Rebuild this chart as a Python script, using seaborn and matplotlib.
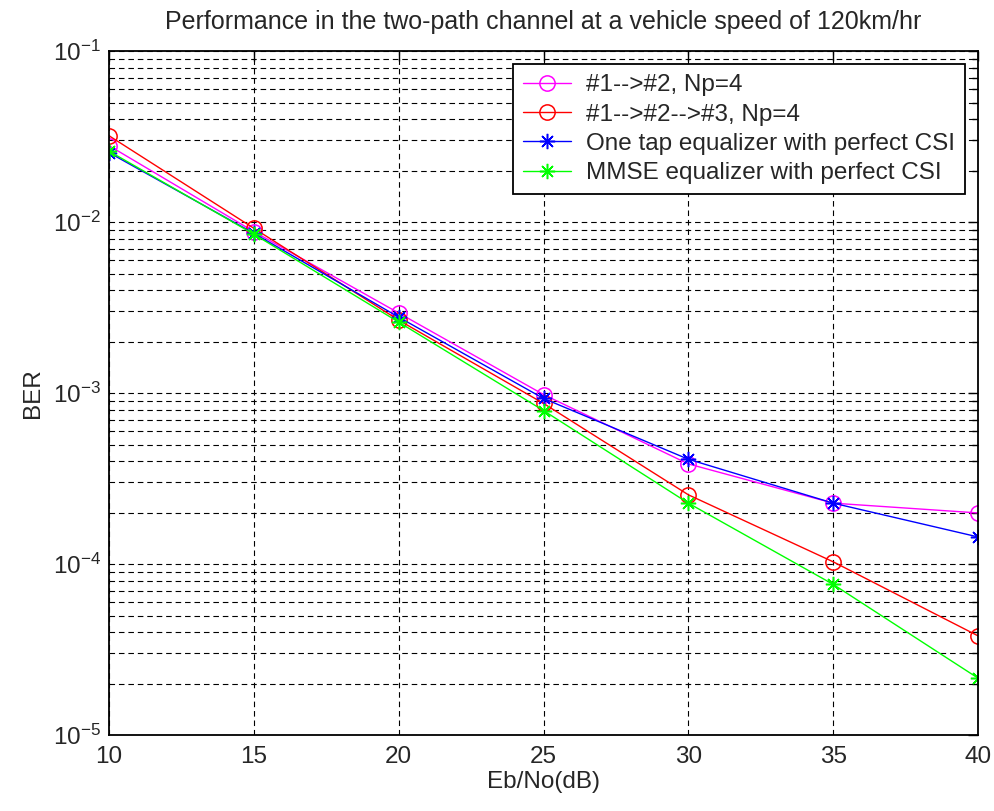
import numpy as np
import pandas as pd
import matplotlib
matplotlib.use("Agg")
import matplotlib.pyplot as plt
from matplotlib.ticker import LogLocator, NullFormatter, FixedLocator
import seaborn as sns

# Eb/No points and BER values
ebno = [10, 15, 20, 25, 30, 35, 40]
ber_np4_12 = [2.8e-2, 8.8e-3, 2.94e-3, 9.8e-4, 3.85e-4, 2.27e-4, 1.99e-4]
ber_np4_123 = [3.2e-2, 9.2e-3, 2.67e-3, 8.7e-4, 2.54e-4, 1.03e-4, 3.8e-5]
ber_onetap = [2.55e-2, 8.6e-3, 2.78e-3, 9.3e-4, 4.1e-4, 2.27e-4, 1.44e-4]
ber_mmse = [2.6e-2, 8.5e-3, 2.6e-3, 7.9e-4, 2.27e-4, 7.6e-5, 2.15e-5]

labels = ["#1-->#2, Np=4", "#1-->#2-->#3, Np=4",
          "One tap equalizer with perfect CSI", "MMSE equalizer with perfect CSI"]

sns.set_style("white")
plt.rcParams['font.family'] = ['Liberation Sans', 'DejaVu Sans']
plt.rcParams['mathtext.default'] = 'regular'
plt.rcParams['xtick.direction'] = 'in'
plt.rcParams['ytick.direction'] = 'in'

FS = 17.5

fig = plt.figure(figsize=(9.95, 8.11), dpi=100)
ax = fig.add_axes([0.1095, 0.0937, 0.8735, 0.8433])

series = [ber_np4_12, ber_np4_123, ber_onetap, ber_mmse]
colors = ["#ff00ff", "#ff0000", "#0000ff", "#00ff00"]
markers = ["o", "o", (8, 2, 0), (8, 2, 0)]
for vals, lab, c, m in zip(series, labels, colors, markers):
    df = pd.DataFrame({"ebno": ebno, "ber": vals})
    if m == "o":
        sns.lineplot(data=df, x="ebno", y="ber", ax=ax, color=c, marker="o",
                     markersize=11, markerfacecolor="none", markeredgecolor=c,
                     markeredgewidth=1.1, linewidth=1.0, label=lab)
    else:
        sns.lineplot(data=df, x="ebno", y="ber", ax=ax, color=c, marker=m,
                     markersize=11, markeredgecolor=c, markeredgewidth=1.1,
                     linewidth=1.0, label=lab)

ax.set_yscale("log")
ax.set_xlim(10, 40)
ax.set_ylim(1e-5, 1e-1)
ax.xaxis.set_major_locator(FixedLocator([10, 15, 20, 25, 30, 35, 40]))
ax.yaxis.set_major_locator(LogLocator(base=10, numticks=10))
ax.yaxis.set_minor_locator(LogLocator(base=10, subs=np.arange(2, 10), numticks=20))
ax.yaxis.set_minor_formatter(NullFormatter())

grid_kw = dict(color="black", linestyle=(0, (5, 3.5)), linewidth=0.8)
ax.grid(True, which="major", axis="both", **grid_kw)
ax.grid(True, which="minor", axis="y", **grid_kw)
ax.set_axisbelow(True)

ax.tick_params(axis="both", which="both", top=True, right=True, labelsize=FS,
               color="black", width=1)
ax.tick_params(which="major", length=7)
ax.tick_params(which="minor", length=4)
ax.tick_params(axis="x", pad=8)
ax.tick_params(axis="y", pad=6)
for s in ax.spines.values():
    s.set_color("black")
    s.set_linewidth(1.3)

ax.set_xlabel("Eb/No(dB)", fontsize=FS, labelpad=2)
ax.set_ylabel("BER", fontsize=FS, labelpad=6)
ax.set_title("Performance in the two-path channel at a vehicle speed of 120km/hr",
             fontsize=18, pad=16)

leg = ax.legend(loc="upper right", fontsize=FS, frameon=True, fancybox=False,
                framealpha=1, edgecolor="black", borderpad=0.4, labelspacing=0.3,
                handlelength=2.0, handletextpad=0.6, borderaxespad=0.55)
leg.get_frame().set_linewidth(1.3)

fig.savefig("out.png", dpi=100, facecolor="white")
